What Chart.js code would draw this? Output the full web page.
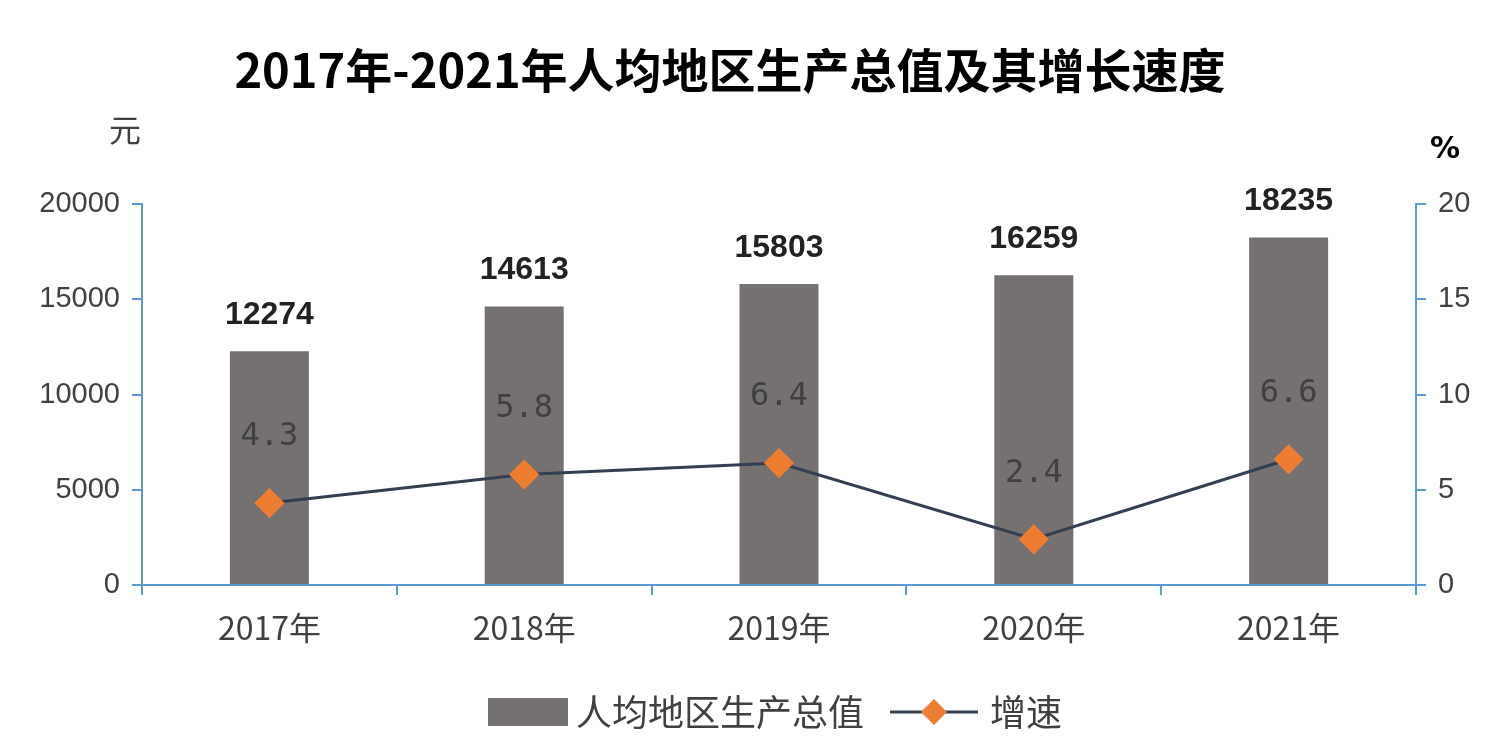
<!DOCTYPE html>
<html><head><meta charset="utf-8">
<script src="https://cdn.jsdelivr.net/npm/chart.js@4/dist/chart.umd.min.js"></script>
<style>body{margin:0;background:#fff}#wrap{width:1488px;height:748px}</style>
</head><body><div id="wrap"><canvas id="c"></canvas></div>
<script>
const years = ['2017年', '2018年', '2019年', '2020年', '2021年'];
const gdpPerCapita = [12274, 14613, 15803, 16259, 18235];
const growth = [4.3, 5.8, 6.4, 2.4, 6.6];
const CJK = '"Noto Sans CJK SC", sans-serif';

// Title, unit labels, value labels and legend
const decor = {
  id: 'decor',
  afterDraw(chart) {
    const c = chart.ctx;
    c.save();
    c.fillStyle = '#000';
    c.textAlign = 'center';
    c.textBaseline = 'middle';
    c.font = 'bold 47px ' + CJK;
    c.fillText('2017年-2021年人均地区生产总值及其增长速度', 730, 70);
    c.font = '32px ' + CJK;
    c.fillStyle = '#404040';
    c.fillText('元', 125, 130);
    c.font = 'bold 30px "DejaVu Sans"';
    c.fillStyle = '#000';
    c.fillText('%', 1445, 150);

    const bars = chart.getDatasetMeta(0).data;
    c.font = 'bold 32px "Liberation Sans", sans-serif';
    c.fillStyle = '#222';
    bars.forEach((b, i) => c.fillText(gdpPerCapita[i], b.x, b.y - 36));
    const pts = chart.getDatasetMeta(1).data;
    c.font = '32px "DejaVu Sans Mono", monospace';
    c.fillStyle = '#404040';
    pts.forEach((p, i) => c.fillText(growth[i].toFixed(1), p.x, p.y - 66));

    // legend
    const ly = 712;
    c.fillStyle = '#757171';
    c.fillRect(488, ly - 14, 80, 28);
    c.fillStyle = '#404040';
    c.font = '36px ' + CJK;
    c.textAlign = 'left';
    c.fillText('人均地区生产总值', 576, ly);
    c.strokeStyle = '#333F50';
    c.lineWidth = 3;
    c.beginPath(); c.moveTo(890, ly); c.lineTo(978, ly); c.stroke();
    c.fillStyle = '#ED7D31';
    c.beginPath(); c.moveTo(934, ly - 13); c.lineTo(947, ly); c.lineTo(934, ly + 13); c.lineTo(921, ly); c.closePath(); c.fill();
    c.fillStyle = '#404040';
    c.fillText('增速', 990, ly);
    c.restore();
  }
};

const axisBlue = '#5B9BD5';
new Chart(document.getElementById('c'), {
  data: {
    labels: years,
    datasets: [
      { type: 'bar', data: gdpPerCapita, backgroundColor: '#757171', yAxisID: 'y', barPercentage: 0.31, categoryPercentage: 1, order: 2 },
      { type: 'line', data: growth, borderColor: '#333F50', borderWidth: 3, yAxisID: 'y1', pointStyle: 'rectRot', pointRadius: 13, pointHoverRadius: 13, pointBackgroundColor: '#ED7D31', pointBorderColor: '#ED7D31', order: 1 }
    ]
  },
  options: {
    responsive: true, maintainAspectRatio: false, animation: false,
    layout: { padding: { top: 204, left: 0, right: 0, bottom: 0 } },
    plugins: { legend: { display: false }, tooltip: { enabled: false } },
    scales: {
      x: {
        afterFit(s) { s.height = 163; },
        grid: { drawOnChartArea: false, color: axisBlue, tickLength: 10, lineWidth: 2 },
        border: { color: axisBlue, width: 2 },
        ticks: { color: '#404040', font: { size: 32, family: CJK }, padding: 14 }
      },
      y: {
        min: 0, max: 20000,
        afterFit(s) { s.width = 142; },
        grid: { drawOnChartArea: false, color: axisBlue, tickLength: 10, lineWidth: 2 },
        border: { color: axisBlue, width: 2 },
        ticks: { stepSize: 5000, color: '#404040', font: { size: 29, family: '"Liberation Sans"' }, padding: 12, callback: v => String(v) }
      },
      y1: {
        position: 'right', min: 0, max: 20,
        afterFit(s) { s.width = 72; },
        grid: { drawOnChartArea: false, color: axisBlue, tickLength: 10, lineWidth: 2 },
        border: { color: axisBlue, width: 2 },
        ticks: { stepSize: 5, color: '#404040', font: { size: 29, family: '"Liberation Sans"' }, padding: 12 }
      }
    }
  },
  plugins: [decor]
});
</script></body></html>
